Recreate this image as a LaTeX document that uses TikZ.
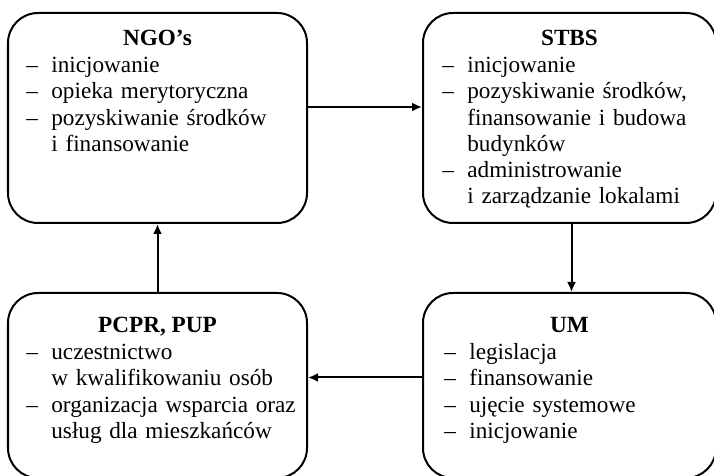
\documentclass[tikz,border=0pt]{standalone}
\usepackage{fontspec}
\setmainfont{Liberation Serif}
\usepackage{tikz}
\usetikzlibrary{arrows.meta, positioning}

\newcommand{\wpis}[1]{\noindent\hangindent=12.5pt\hangafter=1\makebox[12.5pt][l]{--}#1\par}

\begin{document}
\begin{tikzpicture}[x=1pt, y=1pt,
    box/.style = {draw, line width=1pt, rounded corners=15pt, inner sep=0pt},
    head/.style = {inner sep=0pt, anchor=base, font=\fontsize{11.6}{13.1}\selectfont\bfseries},
    txt/.style = {inner sep=0pt, anchor=base west, text width=137pt, align=left, font=\fontsize{11.6}{13.1}\selectfont},
    arr/.style = {line width=1pt, -{Latex[length=5pt,width=4.5pt]}}]
    \useasboundingbox (0,0) rectangle (357,-238);

    \node[box, minimum width=149.5pt, minimum height=105pt] (NGO) at (78.75,-59) {};
    \node[box, minimum width=146.5pt, minimum height=105pt] (STBS) at (284.75,-59) {};
    \node[box, minimum width=149.5pt, minimum height=92.5pt] (PCPR) at (78.75,-192.75) {};
    \node[box, minimum width=146.5pt, minimum height=92.5pt] (UM) at (284.75,-192.75) {};

    \node[head] (NGOt) at ([yshift=-17pt]NGO.north) {NGO’s};
    \node[txt] (NGOtxt) at ([xshift=9.5pt,yshift=-13.4pt]NGO.west |- NGOt.base) {%
        \wpis{inicjowanie}
        \wpis{opieka merytoryczna}
        \wpis{pozyskiwanie środków\newline i finansowanie}};

    \node[head] (STBSt) at ([yshift=-17pt]STBS.north) {STBS};
    \node[txt] (STBStxt) at ([xshift=10pt,yshift=-13.4pt]STBS.west |- STBSt.base) {%
        \wpis{inicjowanie}
        \wpis{pozyskiwanie środków,\newline finansowanie i budowa\newline budynków}
        \wpis{administrowanie\newline i zarządzanie lokalami}};

    \node[head] (PCPRt) at ([yshift=-20.5pt]PCPR.north) {PCPR, PUP};
    \node[txt] (PCPRtxt) at ([xshift=9.5pt,yshift=-13.4pt]PCPR.west |- PCPRt.base) {%
        \wpis{uczestnictwo\newline w kwalifikowaniu osób}
        \wpis{organizacja wsparcia oraz\newline usług dla mieszkańców}};

    \node[head] (UMt) at ([yshift=-20.5pt]UM.north) {UM};
    \node[txt] (UMtxt) at ([xshift=11pt,yshift=-13.4pt]UM.west |- UMt.base) {%
        \wpis{legislacja}
        \wpis{finansowanie}
        \wpis{ujęcie systemowe}
        \wpis{inicjowanie}};

    \draw[arr] ([yshift=5.5pt]NGO.east) -- ([yshift=5.5pt]NGO.east -| STBS.west);
    \draw[arr] ([xshift=1pt]STBS.south) -- ([xshift=1pt]UM.north);
    \draw[arr] ([yshift=4pt]UM.west) -- ([yshift=4pt]UM.west -| PCPR.east);
    \draw[arr] (PCPR.north) -- (NGO.south);
\end{tikzpicture}
\end{document}
